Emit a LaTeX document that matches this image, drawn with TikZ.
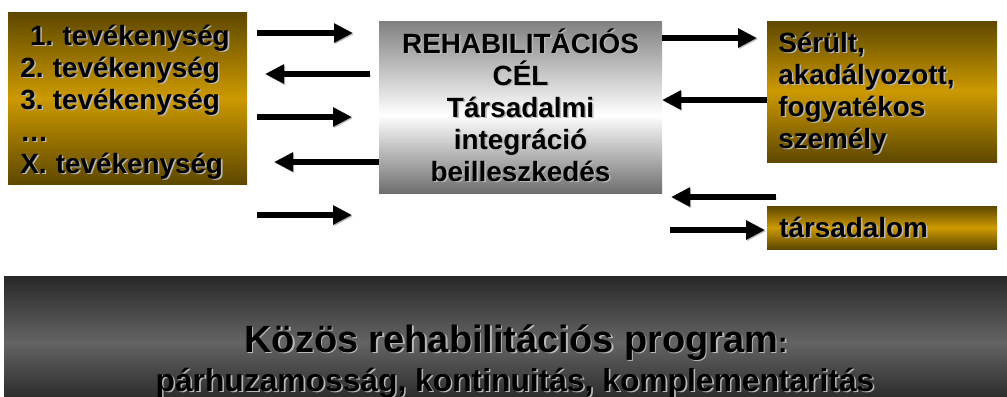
\documentclass[tikz,border=0pt]{standalone}
\usepackage{fontspec}
\setmainfont{Liberation Sans}
\usetikzlibrary{arrows.meta}

\definecolor{golddark}{RGB}{94,72,0}
\definecolor{goldmid}{RGB}{204,153,0}
\definecolor{goaltop}{RGB}{128,128,128}
\definecolor{goalbot}{RGB}{110,110,110}
\definecolor{bandtop}{RGB}{40,40,40}
\definecolor{bandmid}{RGB}{100,100,100}
\definecolor{bandbot}{RGB}{46,46,46}
\definecolor{shadowgray}{RGB}{185,185,185}

\newcommand\shd[1]{\makebox[0pt][l]{\kern1.1pt\raisebox{-1.1pt}{\textcolor{shadowgray}{#1}}}#1}
\frenchspacing

\begin{document}
\begin{tikzpicture}[x=0.025cm, y=0.025cm,
	panel/.style={inner sep=0pt, outer sep=0pt, anchor=north west},
	goldup/.style={top color=golddark, bottom color=goldmid},
	golddown/.style={top color=goldmid, bottom color=golddark},
	boxtext/.style={inner sep=0pt, font=\bfseries\fontsize{19.8}{22.8}\selectfont},
	arr/.style={line width=3.6pt, -{Triangle[length=13.5pt,width=13pt]},
		preaction={draw=shadowgray, transform canvas={shift={(0.8pt,-0.8pt)}}}}]
	\useasboundingbox (0,0) rectangle (1007,-396);

	% boxes
	\node[panel, minimum width=5.975cm, minimum height=4.3cm] (acts) at (8,-12) {};
	\node[panel, minimum width=7.075cm, minimum height=4.3cm] (goal) at (379,-21) {};
	\node[panel, minimum width=5.75cm, minimum height=3.525cm] (person) at (767,-21) {};
	\node[panel, minimum width=5.75cm, minimum height=1.075cm] (society) at (767,-206) {};
	\node[panel, minimum width=25.075cm, minimum height=3cm] (program) at (4,-276) {};

	% shading, upper and lower part
	\shade[goldup] (acts.north west) rectangle (acts.east |- 0,-98);
	\shade[golddown] (acts.west |- 0,-98) rectangle (acts.south east);
	\shade[top color=goaltop, bottom color=white] (goal.north west) rectangle (goal.east |- 0,-115);
	\shade[top color=white, bottom color=goalbot] (goal.west |- 0,-115) rectangle (goal.south east);
	\shade[goldup] (person.north west) rectangle (person.east |- 0,-91);
	\shade[golddown] (person.west |- 0,-91) rectangle (person.south east);
	\shade[goldup] (society.north west) rectangle (society.east |- 0,-227.5);
	\shade[golddown] (society.west |- 0,-227.5) rectangle (society.south east);
	\shade[top color=bandtop, bottom color=bandmid] (program.north west) rectangle (program.east |- 0,-342);
	\shade[top color=bandmid, bottom color=bandbot] (program.west |- 0,-342) rectangle (program.south east);

	% texts
	\node[boxtext, anchor=base west, text width=5.8cm, align=left] (actstext) at (20,-45)
		{\hspace*{7pt}\shd{1. tevékenység}\\ \shd{2. tevékenység}\\ \shd{3. tevékenység}\\ \shd{…}\\ \shd{X. tevékenység}};
	\node[boxtext, anchor=base, text width=7cm, align=center] (goaltext) at (520.5,-53)
		{\shd{REHABILITÁCIÓS}\\ \shd{CÉL}\\ \shd{Társadalmi}\\ \shd{integráció}\\ \shd{beilleszkedés}};
	\node[boxtext, anchor=base west, text width=5.5cm, align=left] (persontext) at (778,-52)
		{\shd{Sérült,}\\ \shd{akadályozott,}\\ \shd{fogyatékos}\\ \shd{személy}};
	\node[boxtext, anchor=base west] (societytext) at (779,-237) {\shd{társadalom}};
	\node[inner sep=0pt, anchor=base, font=\bfseries\fontsize{27}{27}\selectfont] (progtitle) at (516,-352)
		{\shd{Közös rehabilitációs program}{\fontsize{20}{20}\selectfont\shd{:}}};
	\node[inner sep=0pt, anchor=base, font=\bfseries\fontsize{22.6}{22.6}\selectfont] (progsub) at (515,-391)
		{\shd{párhuzamosság, kontinuitás, komplementaritás}};

	% arrows left
	\draw[arr, shorten <=7.1pt, shorten >=18.5pt] (acts.east |- 0,-33) -- (goal.west |- 0,-33);
	\draw[arr, shorten <=6.4pt, shorten >=12.8pt] (goal.west |- 0,-74) -- (acts.east |- 0,-74);
	\draw[arr, shorten <=7.1pt, shorten >=19.2pt] (acts.east |- 0,-117) -- (goal.west |- 0,-117);
	\draw[arr, shorten >=19.2pt] (goal.west |- 0,-162) -- (acts.east |- 0,-162);
	\draw[arr, shorten <=7.1pt, shorten >=19.2pt] (acts.east |- 0,-215) -- (goal.west |- 0,-215);

	% arrows right
	\draw[arr, shorten >=7.1pt] (goal.east |- 0,-38) -- (person.west |- 0,-38);
	\draw[arr] (person.west |- 0,-100) -- (goal.east |- 0,-100);
	\draw[arr, shorten <=-6.4pt, shorten >=6.4pt] (society.west |- 0,-197) -- (goal.east |- 0,-197);
	\draw[arr, shorten <=5.7pt, shorten >=1.4pt] (goal.east |- 0,-230) -- (society.west |- 0,-230);
\end{tikzpicture}
\end{document}
